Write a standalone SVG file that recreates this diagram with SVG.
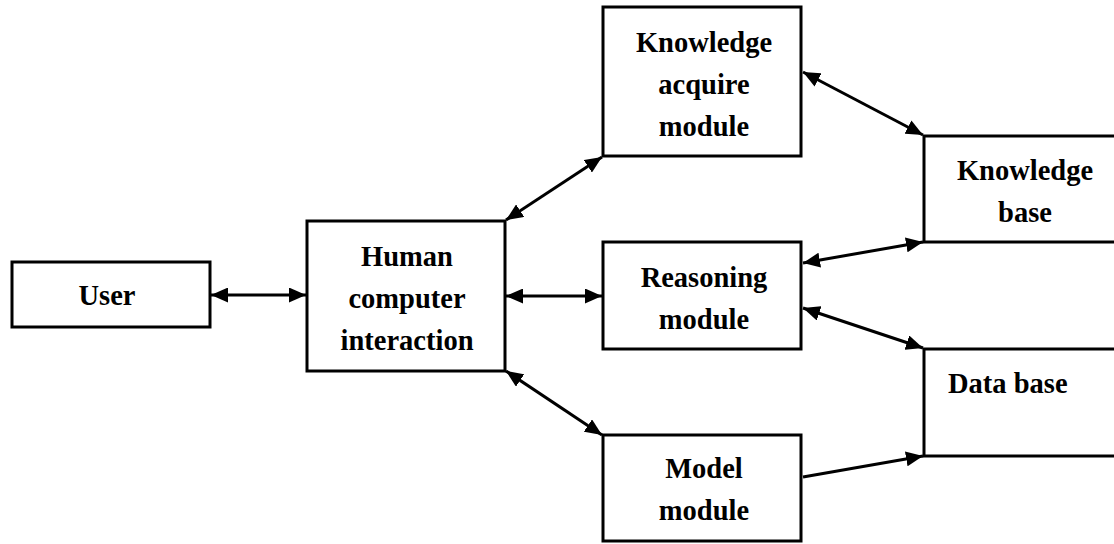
<svg xmlns="http://www.w3.org/2000/svg" width="1114" height="544" viewBox="0 0 1114 544">
  <style>
    .box { fill: #fff; stroke: #000; stroke-width: 3; }
    .lbl { font-family: "Liberation Serif", "Times New Roman", serif; font-weight: bold; font-size: 28.5px; fill: #000; text-anchor: middle; }
    .lbl-l { text-anchor: start; }
    .link { fill: none; stroke: #000; stroke-width: 3; }
    .bi { marker-start: url(#head); marker-end: url(#head); }
    .uni { marker-end: url(#head); }
  </style>
  <defs>
    <marker id="head" markerUnits="userSpaceOnUse" viewBox="0 0 17 15" refX="17" refY="7.5" markerWidth="17" markerHeight="15" orient="auto-start-reverse">
      <path d="M0,0 L17,7.5 L0,15 Z" fill="#000"/>
    </marker>
  </defs>
  <rect width="1114" height="544" fill="#fff"/>

  <g id="connectors">
    <line class="link bi" x1="211" y1="295" x2="306" y2="295"/>
    <line class="link bi" x1="506" y1="220" x2="602" y2="157"/>
    <line class="link bi" x1="506" y1="296" x2="602" y2="296"/>
    <line class="link bi" x1="506" y1="371" x2="602" y2="435"/>
    <line class="link bi" x1="803" y1="72" x2="923" y2="135"/>
    <line class="link bi" x1="803" y1="263" x2="923" y2="242"/>
    <line class="link bi" x1="803" y1="308" x2="923" y2="348"/>
    <line class="link uni" x1="803" y1="477" x2="923" y2="456"/>
  </g>

  <g id="user">
    <rect class="box" x="12" y="262" width="198" height="65"/>
    <text class="lbl" x="107" y="305">User</text>
  </g>

  <g id="hci">
    <rect class="box" x="307" y="221" width="198" height="150"/>
    <text class="lbl" x="407" y="266">Human</text>
    <text class="lbl" x="407" y="308">computer</text>
    <text class="lbl" x="407" y="350">interaction</text>
  </g>

  <g id="knowledge-acquire">
    <rect class="box" x="603" y="7" width="198" height="149"/>
    <text class="lbl" x="704" y="52">Knowledge</text>
    <text class="lbl" x="704" y="94">acquire</text>
    <text class="lbl" x="704" y="136">module</text>
  </g>

  <g id="reasoning">
    <rect class="box" x="603" y="242" width="198" height="107"/>
    <text class="lbl" x="704" y="287">Reasoning</text>
    <text class="lbl" x="704" y="329">module</text>
  </g>

  <g id="model">
    <rect class="box" x="603" y="435" width="198" height="106"/>
    <text class="lbl" x="704" y="478">Model</text>
    <text class="lbl" x="704" y="520">module</text>
  </g>

  <g id="knowledge-base">
    <rect class="box" x="924" y="136" width="210" height="106"/>
    <text class="lbl" x="1025" y="180">Knowledge</text>
    <text class="lbl" x="1025" y="222">base</text>
  </g>

  <g id="data-base">
    <rect class="box" x="924" y="349" width="210" height="107"/>
    <text class="lbl lbl-l" x="948" y="393">Data base</text>
  </g>
</svg>
